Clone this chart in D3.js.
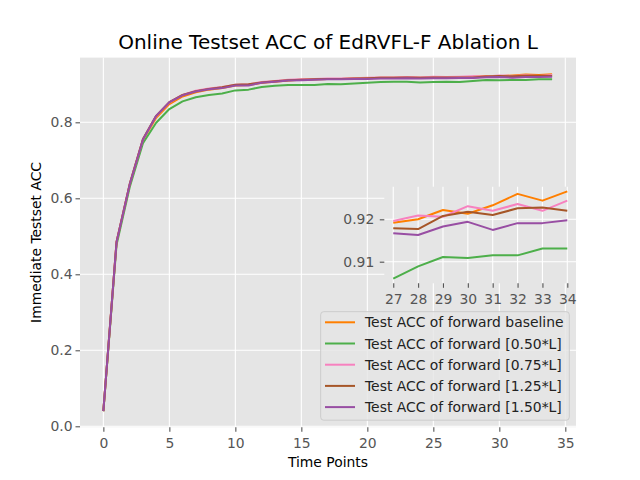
<!DOCTYPE html>
<html>
<head>
<meta charset="utf-8">
<script src="https://cdn.jsdelivr.net/npm/d3@7"></script>
<style>
  body { margin: 0; background: #fff; }
  svg { font-family: "DejaVu Sans", sans-serif; }
</style>
</head>
<body>
<div id="chart"></div>
<script>
// data
var timePoints = d3.range(0, 35);
var seriesNames = ["Test ACC of forward baseline", "Test ACC of forward [0.50*L]",
  "Test ACC of forward [0.75*L]", "Test ACC of forward [1.25*L]", "Test ACC of forward [1.50*L]"];
var seriesColors = ["#ff7f00", "#4daf4a", "#f781bf", "#a65628", "#984ea3"];

var accBaseline = [0.040, 0.484, 0.636, 0.753, 0.812, 0.848, 0.868, 0.879, 0.886, 0.890, 0.897, 0.898,
  0.904, 0.907, 0.910, 0.912, 0.913, 0.914, 0.914, 0.915, 0.916, 0.917, 0.917, 0.918, 0.917, 0.918, 0.918,
  0.9192, 0.9200, 0.9222, 0.9213, 0.9233, 0.9260, 0.9244, 0.9266];
var acc050 = [0.040, 0.478, 0.630, 0.745, 0.799, 0.835, 0.855, 0.866, 0.872, 0.876, 0.884, 0.886,
  0.893, 0.896, 0.898, 0.898, 0.898, 0.901, 0.900, 0.902, 0.904, 0.906, 0.907, 0.907, 0.905, 0.906, 0.907,
  0.9060, 0.9089, 0.9111, 0.9109, 0.9115, 0.9115, 0.9131, 0.9131];
var acc075 = [0.041, 0.486, 0.638, 0.755, 0.816, 0.852, 0.872, 0.883, 0.889, 0.893, 0.899, 0.900,
  0.906, 0.909, 0.912, 0.913, 0.914, 0.915, 0.915, 0.916, 0.917, 0.918, 0.918, 0.919, 0.918, 0.920, 0.919,
  0.9196, 0.9209, 0.9206, 0.9231, 0.9220, 0.9236, 0.9220, 0.9244];
var acc125 = [0.040, 0.486, 0.638, 0.756, 0.817, 0.853, 0.872, 0.882, 0.888, 0.892, 0.899, 0.900,
  0.905, 0.908, 0.911, 0.912, 0.913, 0.914, 0.914, 0.915, 0.916, 0.917, 0.917, 0.918, 0.917, 0.918, 0.918,
  0.9179, 0.9177, 0.9208, 0.9218, 0.9210, 0.9226, 0.9228, 0.9220];
var acc150 = [0.040, 0.485, 0.637, 0.755, 0.817, 0.853, 0.871, 0.881, 0.887, 0.890, 0.897, 0.897,
  0.904, 0.907, 0.910, 0.911, 0.912, 0.913, 0.913, 0.914, 0.914, 0.915, 0.915, 0.916, 0.915, 0.916, 0.916,
  0.9167, 0.9163, 0.9183, 0.9194, 0.9175, 0.9191, 0.9191, 0.9198];

var xTicks = [0, 5, 10, 15, 20, 25, 30, 35];
var yTicks = [0.0, 0.2, 0.4, 0.6, 0.8];
var insetXTicks = [27, 28, 29, 30, 31, 32, 33, 34];
var insetYTicks = [0.91, 0.92];
var insetStart = 27;

var allSeries = [accBaseline, acc050, acc075, acc125, acc150];

var W = 640, H = 480;
var svg = d3.select("#chart").append("svg")
  .attr("width", W).attr("height", H);

// main axes box
var box = {left: 80, right: 576, top: 57.6, bottom: 427.2};

var x = d3.scaleLinear().domain([-1.77, 35.81]).range([box.left, box.right]);
var y = d3.scaleLinear().domain([-0.0024, 0.9703]).range([box.bottom, box.top]);

function drawPanel(g, b, xs, ys, xt, yt, xfmt, yfmt, data, idId, yPad) {
  g.append("rect")
    .attr("x", b.left).attr("y", b.top)
    .attr("width", b.right - b.left).attr("height", b.bottom - b.top)
    .attr("fill", "#e5e5e5");

  // grid
  g.selectAll(".vg").data(xt).enter().append("line")
    .attr("x1", function(d) { return xs(d); }).attr("x2", function(d) { return xs(d); })
    .attr("y1", b.top).attr("y2", b.bottom)
    .attr("stroke", "#fff").attr("stroke-width", 1.1);
  g.selectAll(".hg").data(yt).enter().append("line")
    .attr("y1", function(d) { return ys(d); }).attr("y2", function(d) { return ys(d); })
    .attr("x1", b.left).attr("x2", b.right)
    .attr("stroke", "#fff").attr("stroke-width", 1.1);

  // axes
  var ax = g.append("g")
    .attr("transform", "translate(0," + b.bottom + ")")
    .call(d3.axisBottom(xs).tickValues(xt).tickFormat(xfmt).tickSizeInner(4.5).tickSizeOuter(0).tickPadding(6.5));
  var ay = g.append("g")
    .attr("transform", "translate(" + b.left + ",0)")
    .call(d3.axisLeft(ys).tickValues(yt).tickFormat(yfmt).tickSizeInner(4.5).tickSizeOuter(0).tickPadding(yPad));
  [ax, ay].forEach(function(a) {
    a.select(".domain").remove();
    a.selectAll(".tick line").attr("stroke", "#555").attr("stroke-width", 1.1);
    a.selectAll(".tick text").attr("fill", "#555")
      .style("font-size", "13.9px").style("font-family", "DejaVu Sans");
  });

  g.append("clipPath").attr("id", idId)
    .append("rect")
    .attr("x", b.left).attr("y", b.top)
    .attr("width", b.right - b.left).attr("height", b.bottom - b.top);

  var line = d3.line()
    .x(function(d) { return xs(d[0]); })
    .y(function(d) { return ys(d[1]); });

  g.append("g").attr("clip-path", "url(#" + idId + ")")
    .selectAll("path").data(data).enter().append("path")
    .attr("d", function(d) { return line(d); })
    .attr("fill", "none")
    .attr("stroke", function(d, i) { return seriesColors[i]; })
    .attr("stroke-width", 2)
    .attr("stroke-linejoin", "round");
}

var mainData = allSeries.map(function(s) {
  return s.map(function(v, i) { return [timePoints[i], v]; });
});
drawPanel(svg.append("g"), box, x, y, xTicks, yTicks, d3.format("d"), d3.format(".1f"), mainData, "clipMain", 3);

// title and labels
svg.append("text")
  .attr("x", (box.left + box.right) / 2).attr("y", 48.7)
  .attr("text-anchor", "middle")
  .style("font-size", "20px")
  .text("Online Testset ACC of EdRVFL-F Ablation L");

svg.append("text")
  .attr("x", (box.left + box.right) / 2).attr("y", 466.5)
  .attr("text-anchor", "middle")
  .style("font-size", "13.9px")
  .text("Time Points");

svg.append("text")
  .attr("transform", "translate(40.7," + ((box.top + box.bottom) / 2) + ")rotate(-90)")
  .attr("text-anchor", "middle")
  .style("font-size", "13.9px")
  .text("Immediate Testset ACC");

// legend
var lg = svg.append("g");
lg.append("rect")
  .attr("x", 320.7).attr("y", 311.7)
  .attr("width", 248.6).attr("height", 108.5)
  .attr("rx", 3).attr("ry", 3)
  .attr("fill", "rgba(229,229,229,0.8)")
  .attr("stroke", "#cccccc").attr("stroke-width", 1);
seriesNames.forEach(function(name, i) {
  var yy = 322.3 + i * 21.2;
  lg.append("line")
    .attr("x1", 325).attr("x2", 355).attr("y1", yy).attr("y2", yy)
    .attr("stroke", seriesColors[i]).attr("stroke-width", 2);
  lg.append("text")
    .attr("x", 365).attr("y", yy).attr("dy", "0.36em")
    .style("font-size", "13.9px")
    .attr("fill", "#222")
    .text(name);
});

// inset zoom on the last time points
var ibox = {left: 384.3, right: 576, top: 186.7, bottom: 283.3};
var xi = d3.scaleLinear().domain([26.64, 34.35]).range([ibox.left, ibox.right]);
var yi = d3.scaleLinear().domain([0.90491, 0.92769]).range([ibox.bottom, ibox.top]);
var insetData = allSeries.map(function(s) {
  return s.slice(insetStart).map(function(v, i) { return [timePoints[insetStart + i], v]; });
});
drawPanel(svg.append("g"), ibox, xi, yi, insetXTicks, insetYTicks, d3.format("d"), d3.format(".2f"), insetData, "clipInset", 5.5);
</script>
</body>
</html>
